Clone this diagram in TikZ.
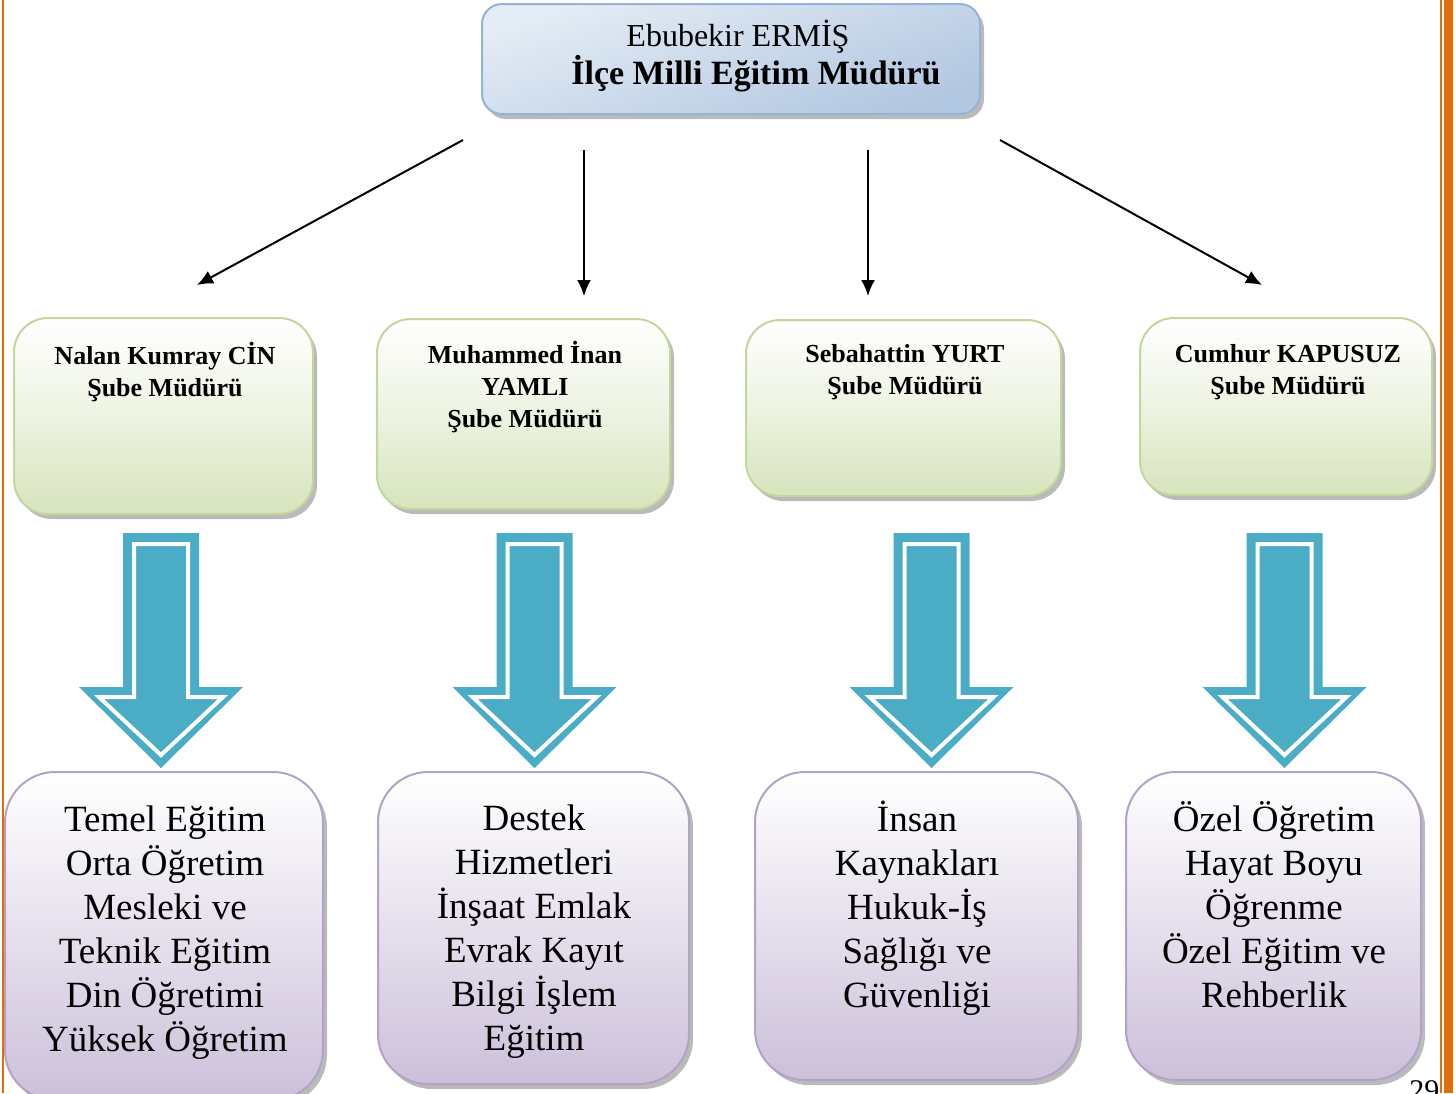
\documentclass[tikz,border=0pt]{standalone}
\usepackage{fontspec}
\setmainfont{Liberation Serif}
\usetikzlibrary{arrows.meta,shadows}
\definecolor{okmavi}{HTML}{4BACC6}
\definecolor{turuncu}{HTML}{E36C0A}
\definecolor{mavikenar}{HTML}{95B3D7}
\definecolor{maviust}{HTML}{E4ECF5}
\definecolor{mavialt}{HTML}{B2C7E1}
\definecolor{yesilkenar}{HTML}{C3D69B}
\definecolor{yesilalt}{HTML}{D7E4BD}
\definecolor{morkenar}{HTML}{B3A2C7}
\definecolor{moralt}{HTML}{CCC0DA}
\tikzset{
  golge/.style={drop shadow={shadow xshift=2pt,shadow yshift=-2.5pt,opacity=.45,fill=black!60}},
  mudur/.style={draw=mavikenar,line width=1pt,rounded corners=10pt,golge,
    shading=axis,top color=maviust,bottom color=mavialt,shading angle=20},
  sube/.style={draw=yesilkenar,line width=1pt,rounded corners=17pt,golge,
    top color=white,bottom color=yesilalt,middle color=yesilalt!45!white},
  birim/.style={draw=morkenar,line width=1pt,rounded corners=25pt,golge,
    top color=white,bottom color=moralt,middle color=moralt!50!white},
  yazi/.style={align=center,inner sep=0pt,text=black}
}
\begin{document}
\begin{tikzpicture}[x=0.5pt,y=-0.5pt]
\useasboundingbox (0,0) rectangle (1456,1093);
% kenar cizgileri
\fill[turuncu] (2,0) rectangle (4,1093);
\fill[turuncu] (1440,0) rectangle (1442,1093);
\fill[turuncu] (1444,0) rectangle (1453,1093);
% ilce mudur
\node[mudur,minimum width=249pt,minimum height=55pt] (ilce) at (731,59) {};
\node[yazi,font=\fontsize{16}{17}\selectfont] (ilcetxt) at (738,56)
  {Ebubekir ERMİŞ\\\hspace*{18pt}{\fontsize{17}{17}\selectfont\bfseries İlçe Milli Eğitim Müdürü}};
% sube mudurleri
\node[sube,minimum width=149.5pt,minimum height=98pt] (s1) at (163.5,416) {};
\node[sube,minimum width=146.5pt,minimum height=95pt] (s2) at (523.5,414) {};
\node[sube,minimum width=157.5pt,minimum height=88pt] (s3) at (903.5,408) {};
\node[sube,minimum width=146pt,minimum height=88.5pt] (s4) at (1286,406.5) {};
\node[yazi,font=\fontsize{13}{16}\selectfont\bfseries] (s1txt) at (165,372) {Nalan Kumray CİN\\Şube Müdürü};
\node[yazi,font=\fontsize{13}{16}\selectfont\bfseries] (s2txt) at (525,387) {Muhammed İnan\\YAMLI\\Şube Müdürü};
\node[yazi,font=\fontsize{13}{16}\selectfont\bfseries] (s3txt) at (905,372) {Sebahattin YURT\\Şube Müdürü};
\node[yazi,font=\fontsize{13}{16}\selectfont\bfseries] (s4txt) at (1288,372) {Cumhur KAPUSUZ\\Şube Müdürü};
% ok uclari
\coordinate (u1) at (463,140); \coordinate (a1) at (197,285);
\coordinate (u2) at (584,150); \coordinate (a2) at (584,296);
\coordinate (u3) at (868,150); \coordinate (a3) at (868,296);
\coordinate (u4) at (1000,140); \coordinate (a4) at (1262,285);
\foreach \i in {1,...,4}
\draw[line width=1pt,-{Latex[length=8pt,width=7pt]}] (u\i)--(a\i);
% blok oklar
\foreach \cx in {161,534.5,931.5,1284.5}{
\fill[okmavi] (\cx-38,533)--(\cx+38,533)--(\cx+38,687)--(\cx+82,687)--(\cx,768)--(\cx-82,687)--(\cx-38,687)--cycle;
\draw[white,line width=2pt,line join=miter] (\cx-27,544)--(\cx+27,544)--(\cx+27,697)--(\cx+62,697)--(\cx,755)--(\cx-62,697)--(\cx-27,697)--cycle;
}
% birimler
\node[birim,minimum width=159pt,minimum height=164pt] (b1) at (164,936) {};
\node[birim,minimum width=155.5pt,minimum height=156pt] (b2) at (533.5,928) {};
\node[birim,minimum width=161.5pt,minimum height=154pt] (b3) at (916.5,926) {};
\node[birim,minimum width=147.5pt,minimum height=154pt] (b4) at (1273.5,926) {};
\node[yazi,font=\fontsize{18.5}{22}\selectfont] (b1txt) at (165,933)
  {Temel Eğitim\\Orta Öğretim\\Mesleki ve\\Teknik Eğitim\\Din Öğretimi\\Yüksek Öğretim};
\node[yazi,font=\fontsize{18.5}{22}\selectfont] (b2txt) at (534,932)
  {Destek\\Hizmetleri\\İnşaat Emlak\\Evrak Kayıt\\Bilgi İşlem\\Eğitim};
\node[yazi,font=\fontsize{18.5}{22}\selectfont] (b3txt) at (917,908)
  {İnsan\\Kaynakları\\Hukuk-İş\\Sağlığı ve\\Güvenliği};
\node[yazi,font=\fontsize{18.5}{22}\selectfont] (b4txt) at (1274,905)
  {Özel Öğretim\\Hayat Boyu\\Öğrenme\\Özel Eğitim ve\\Rehberlik};
% sayfa no
\node[inner sep=0pt,anchor=north west,font=\fontsize{15}{15}\selectfont] (sayfa) at (1409,1080) {29};
\end{tikzpicture}
\end{document}
